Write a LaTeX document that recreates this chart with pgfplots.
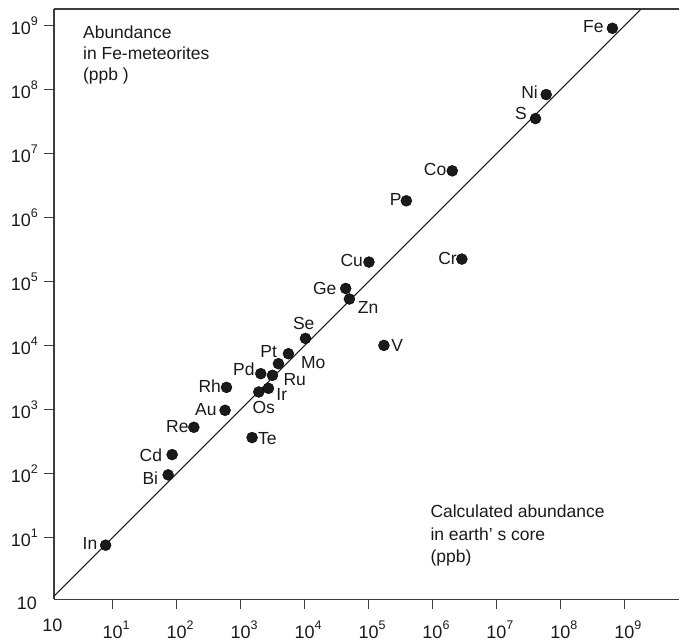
\documentclass[border=0pt]{standalone}
\usepackage{pgfplots}
\pgfplotsset{compat=1.18}
\usepackage{pgfplotstable}
\usepackage{fontspec}
\setmainfont{Liberation Sans}
\usetikzlibrary{calc}

\definecolor{ink}{HTML}{1A1A1A}
\definecolor{frame}{HTML}{3C3C3C}

% power-of-ten tick labels; on x the exponent does not count for centring
\newcommand{\supx}[1]{10\rlap{\raisebox{9pt}{\fontsize{12.5}{13}\selectfont #1}}}
\newcommand{\supy}[1]{10\raisebox{9pt}{\fontsize{12.5}{13}\selectfont #1}}

% element, core abundance (ppb), Fe-meteorite abundance (ppb), label offset (pt)
\pgfplotstableread{
x          y          lab  dx     dy
7.78       7.59       In   -15.7   1.7
73.8       95.3       Bi   -17.8  -3.7
85.3       197.7      Cd   -21.3  -1.0
186.2      528.4      Re   -16.5   1.2
572.8      972.9      Au   -19.3   0.7
602.6      2223       Rh   -16.7   1.2
1514       364.8      Te    15.2  -0.5
1928       1884       Os     5.0 -15.2
2729       2148       Ir    13.3  -6.3
2070       3639       Pd   -17.0   4.0
3148       3428       Ru    22.3  -4.3
3908       5212       Mo    34.8   1.5
5598       7464       Pt   -19.7   2.5
10330      12940      Se    -1.7  14.7
43950      78160      Ge   -21.0  -0.3
50230      53460      Zn    18.8  -8.2
101600     201800     Cu   -17.3   1.3
174200     10070      V     13.2   0.2
389900     1832000    P    -10.7   1.5
2037000    5383000    Co   -17.2   1.0
2877000    224900     Cr   -14.3   0.8
40740000   35320000   S    -14.5   4.7
59840000   83750000   Ni   -16.7   2.2
648600000  909900000  Fe   -19.0   1.8
}\elements

\begin{document}
\begin{tikzpicture}
\begin{axis}[
  scale only axis,
  width=626pt, height=591pt,
  xmode=log, ymode=log,
  xmin=1.2115, xmax=7.23e9,
  ymin=1.076, ymax=1.824e9,
  axis x line*=bottom, axis y line*=left,
  axis line style={frame, line width=1.2pt},
  xtick={1e1,1e2,1e3,1e4,1e5,1e6,1e7,1e8,1e9},
  ytick={1e1,1e2,1e3,1e4,1e5,1e6,1e7,1e8,1e9},
  xticklabels={\supx{1},\supx{2},\supx{3},\supx{4},\supx{5},\supx{6},\supx{7},\supx{8},\supx{9}},
  yticklabels={\supy{1},\supy{2},\supy{3},\supy{4},\supy{5},\supy{6},\supy{7},\supy{8},\supy{9}},
  xminorticks=false, yminorticks=false,
  tick align=outside,
  major tick length=10pt,
  every tick/.style={frame, line width=1pt},
  tick label style={font=\fontsize{18}{20}\selectfont, text=ink, inner sep=0pt},
  xticklabel style={anchor=base, yshift=-29.5pt},
  yticklabel style={anchor=base east, xshift=-6pt, yshift=-8.5pt},
]
% one-to-one line
\addplot[ink, line width=1.1pt] coordinates {(1,1) (1e10,1e10)};

\addplot[
  only marks, mark=*, mark size=5.5pt,
  mark options={fill=ink, draw=none},
  point meta=explicit symbolic,
  visualization depends on={\thisrow{dx}\as\dx},
  visualization depends on={\thisrow{dy}\as\dy},
  nodes near coords,
  every node near coord/.append style={anchor=center, inner sep=0pt,
    xshift=\dx pt, yshift=\dy pt, text=ink,
    font=\fontsize{17.5}{20}\selectfont},
] table[x=x, y=y, meta=lab] {\elements};

\coordinate (sw) at (rel axis cs:0,0);
\coordinate (nw) at (rel axis cs:0,1);
\coordinate (ne) at (rel axis cs:1,1);
\end{axis}

\draw[frame, line width=1.2pt] (nw) -- (ne);

\begin{scope}[every node/.style={text=ink, inner sep=0pt, font=\fontsize{17.5}{20}\selectfont}]
  \node[anchor=base west] at ($(nw)+(29pt,-29.3pt)$) {Abundance};
  \node[anchor=base west] at ($(nw)+(29pt,-50.3pt)$) {in Fe-meteorites};
  \node[anchor=base west] at ($(nw)+(29pt,-71.8pt)$) {(ppb )};
  \node[anchor=base west] at ($(sw)+(376.7pt,82pt)$) {Calculated abundance};
  \node[anchor=base west] at ($(sw)+(376.7pt,59pt)$) {in earth’ s core};
  \node[anchor=base west] at ($(sw)+(376.7pt,37pt)$) {(ppb)};
\end{scope}

\begin{scope}[every node/.style={text=ink, inner sep=0pt, font=\fontsize{18}{20}\selectfont}]
  \node[anchor=base east] at ($(sw)+(-17pt,-10pt)$) {10};
  \node[anchor=base] at ($(sw)+(-1.5pt,-32pt)$) {10};
\end{scope}

\path[use as bounding box] ($(sw)+(-54pt,-42pt)$) rectangle ($(ne)+(0pt,9pt)$);
\end{tikzpicture}
\end{document}
